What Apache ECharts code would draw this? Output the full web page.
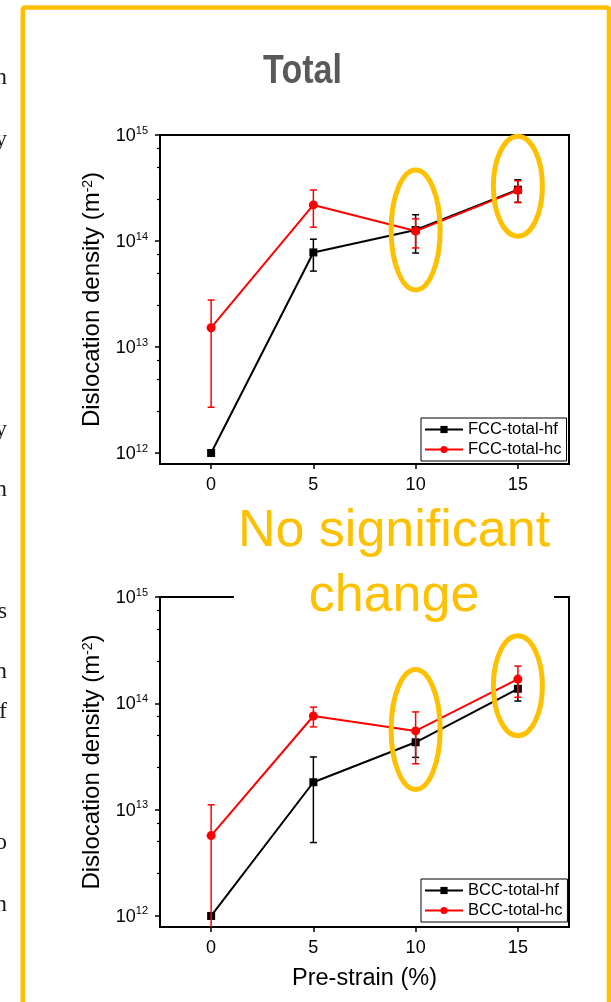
<!DOCTYPE html>
<html>
<head>
<meta charset="utf-8">
<script src="https://cdn.jsdelivr.net/npm/echarts@6/dist/echarts.min.js"></script>
<style>
  html, body { margin: 0; padding: 0; background: #ffffff; }
  #chart { width: 611px; height: 1002px; }
</style>
</head>
<body>
<div id="chart"></div>
<script>
// Pre-strain levels (%)
const strains = [0, 5, 10, 15];

// FCC total dislocation density (m^-2) and symmetric errors
const fccHf    = [1.0e12, 7.8e13, 1.27e14, 3.05e14];
const fccHfErr = [0, 2.6e13, 5.0e13, 7.3e13];
const fccHc    = [1.52e13, 2.19e14, 1.24e14, 3.0e14];
const fccHcErr = [1.25e13, 8.4e13, 3.8e13, 7.0e13];

// BCC total dislocation density (m^-2) and symmetric errors
const bccHf    = [1.0e12, 1.81e13, 4.3e13, 1.37e14];
const bccHfErr = [0, 1.32e13, 1.2e13, 3.2e13];
const bccHc    = [5.7e12, 7.6e13, 5.5e13, 1.69e14];
const bccHcErr = [5.4e12, 1.6e13, 2.8e13, 5.5e13];

// Tick values
const xTicks = [0, 5, 10, 15];
const yMajorTicks = [1e12, 1e13, 1e14, 1e15];
const yMinorTicks = [2.5e12, 5e12, 7.5e12, 2.5e13, 5e13, 7.5e13, 2.5e14, 5e14, 7.5e14];

// Highlighted strain levels: [strain, density at ring centre]
const fccRings = [[10, 1.27e14], [15, 3.28e14]];
const bccRings = [[10, 5.68e13], [15, 1.46e14]];

// Text fragments of the neighbouring column at the left page edge
const edgeFragments = [['n', 78], ['y', 140], ['y', 430], ['n', 490], ['s', 612], ['n', 672], ['f', 712], ['o', 843], ['n', 905]];

const FONT = '"Liberation Sans", Arial, Helvetica, sans-serif';
const GOLD = '#FFC000';
const RED = '#FF0000';
const Y_MIN = Math.pow(10, 11.896);
const Y_MAX = 1.00001e15;

const chart = echarts.init(document.getElementById('chart'), null, { renderer: 'canvas' });

function xAxisOf(gridIndex, withName) {
  return {
    type: 'value', gridIndex, min: -2.5, max: 17.5,
    axisLine: { onZero: false, lineStyle: { color: '#000', width: 2 } },
    axisTick: { show: true, customValues: xTicks, length: 5, inside: false, lineStyle: { color: '#000', width: 1.5 } },
    axisLabel: { customValues: xTicks, fontSize: 18, color: '#000', margin: 12, fontFamily: FONT },
    splitLine: { show: false },
    name: withName ? 'Pre-strain (%)' : '',
    nameLocation: 'middle', nameGap: 40,
    nameTextStyle: { fontSize: 23.5, color: '#000', fontFamily: FONT }
  };
}

const supRich = {
  b: { fontSize: 18, lineHeight: 20, verticalAlign: 'bottom', color: '#000', fontFamily: FONT },
  s: { fontSize: 11, lineHeight: 11, verticalAlign: 'top', color: '#000', fontFamily: FONT }
};

function yAxisOf(gridIndex) {
  return {
    type: 'log', logBase: 10, gridIndex, min: Y_MIN, max: Y_MAX, position: 'left',
    axisLine: { show: true, onZero: false, lineStyle: { color: '#000', width: 2 } },
    axisTick: { show: true, customValues: yMajorTicks, length: 5, lineStyle: { color: '#000', width: 1.5 } },
    axisLabel: {
      customValues: yMajorTicks, margin: 12,
      formatter: v => '{b|10}{s|' + Math.round(Math.log10(v)) + '}',
      rich: supRich
    },
    splitLine: { show: false },
    name: 'Dislocation density (m{s|-2})',
    nameLocation: 'middle', nameGap: 49,
    nameTextStyle: {
      fontSize: 24, color: '#000', fontFamily: FONT,
      rich: {
        s: { fontSize: 14, lineHeight: 14, verticalAlign: 'top', color: '#000', fontFamily: FONT }
      }
    }
  };
}

function yMinorAxisOf(gridIndex) {
  return {
    type: 'log', logBase: 10, gridIndex, min: Y_MIN, max: Y_MAX, position: 'left',
    axisLine: { show: false, onZero: false },
    axisTick: { show: true, customValues: yMinorTicks, length: 3, lineStyle: { color: '#000', width: 1.2 } },
    axisLabel: { show: false },
    splitLine: { show: false }
  };
}

function lineSeries(name, values, color, symbol, size, axisIdx, z) {
  return {
    type: 'line', name, xAxisIndex: axisIdx, yAxisIndex: axisIdx * 2,
    data: strains.map((x, i) => [x, values[i]]),
    symbol, symbolSize: size, showSymbol: true,
    lineStyle: { color, width: 2 }, itemStyle: { color },
    z, animation: false, silent: true
  };
}

function errorSeries(values, errs, color, axisIdx, z) {
  const data = [];
  strains.forEach((x, i) => { if (errs[i] > 0) data.push([x, values[i] - errs[i], values[i] + errs[i]]); });
  return {
    type: 'custom', xAxisIndex: axisIdx, yAxisIndex: axisIdx * 2, z, silent: true,
    encode: { x: 0, y: [1, 2] },
    data,
    renderItem(params, api) {
      const x = api.value(0), lo = api.value(1), hi = api.value(2);
      const cs = params.coordSys;
      const bottom = cs.y + cs.height;
      const top = api.coord([x, hi]);
      const cx = top[0];
      const clipped = lo <= Y_MIN;
      const loY = clipped ? bottom : api.coord([x, lo])[1];
      const capHalf = 3.5;
      const style = { stroke: color, lineWidth: 1.5, fill: null };
      const children = [
        { type: 'line', shape: { x1: cx, y1: top[1], x2: cx, y2: loY }, style },
        { type: 'line', shape: { x1: cx - capHalf, y1: top[1], x2: cx + capHalf, y2: top[1] }, style }
      ];
      if (!clipped) {
        children.push({ type: 'line', shape: { x1: cx - capHalf, y1: loY, x2: cx + capHalf, y2: loY }, style });
      }
      return { type: 'group', children };
    }
  };
}

function ringSeries(rings, axisIdx) {
  const ry = [60, 50];
  return {
    type: 'custom', xAxisIndex: axisIdx, yAxisIndex: axisIdx * 2, z: 20, silent: true,
    encode: { x: 0, y: 1 },
    data: rings,
    renderItem(params, api) {
      const c = api.coord([api.value(0), api.value(1)]);
      return {
        type: 'ellipse',
        shape: { cx: c[0], cy: c[1], rx: 24.5, ry: ry[params.dataIndex] },
        style: { fill: null, stroke: GOLD, lineWidth: 5 }
      };
    }
  };
}

function legendOf(names, top) {
  return {
    data: names, orient: 'vertical', left: 421, top,
    itemWidth: 38, itemHeight: 9, itemGap: 3,
    padding: [3, 5, 3, 3],
    borderColor: '#000', borderWidth: 1, backgroundColor: '#fff',
    textStyle: { fontSize: 16.5, color: '#000', fontFamily: FONT },
    selectedMode: false
  };
}

const graphics = [
  {
    type: 'rect', z: 100,
    shape: { x: 22.8, y: 7.5, width: 586.2, height: 1100, r: 2 },
    style: { fill: null, stroke: GOLD, lineWidth: 4.6 }
  },
  {
    type: 'text', z: 100, x: 302.5, y: 71.6, scaleX: 0.83,
    style: {
      text: 'Total', fill: '#595959', font: 'bold 41px ' + FONT,
      textAlign: 'center', textVerticalAlign: 'middle'
    }
  },
  {
    type: 'text', z: 100, x: 394, y: 497,
    style: {
      text: 'No significant\nchange', fill: GOLD, font: '52px ' + FONT,
      textAlign: 'center', textVerticalAlign: 'top', lineHeight: 65,
      backgroundColor: '#ffffff', padding: [2, 4, 2, 4]
    }
  }
];
edgeFragments.forEach(([ch, y]) => {
  graphics.push({
    type: 'text', z: 100, x: 7, y,
    style: {
      text: ch, fill: '#1a1a1a', font: '24px "Liberation Serif", "Times New Roman", serif',
      textAlign: 'right', textVerticalAlign: 'middle'
    }
  });
});

const option = {
  animation: false,
  backgroundColor: '#ffffff',
  textStyle: { fontFamily: FONT },
  grid: [
    { left: 160, top: 135, width: 409, height: 329, show: true, borderColor: '#000', borderWidth: 2, backgroundColor: 'transparent', containLabel: false },
    { left: 160, top: 597, width: 409, height: 330, show: true, borderColor: '#000', borderWidth: 2, backgroundColor: 'transparent', containLabel: false }
  ],
  xAxis: [xAxisOf(0, false), xAxisOf(1, true)],
  yAxis: [yAxisOf(0), yMinorAxisOf(0), yAxisOf(1), yMinorAxisOf(1)],
  legend: [
    legendOf(['FCC-total-hf', 'FCC-total-hc'], 418),
    legendOf(['BCC-total-hf', 'BCC-total-hc'], 879)
  ],
  series: [
    errorSeries(fccHf, fccHfErr, '#000', 0, 3),
    lineSeries('FCC-total-hf', fccHf, '#000', 'rect', 8, 0, 4),
    errorSeries(fccHc, fccHcErr, RED, 0, 5),
    lineSeries('FCC-total-hc', fccHc, RED, 'circle', 9, 0, 6),
    ringSeries(fccRings, 0),
    errorSeries(bccHf, bccHfErr, '#000', 1, 3),
    lineSeries('BCC-total-hf', bccHf, '#000', 'rect', 8, 1, 4),
    errorSeries(bccHc, bccHcErr, RED, 1, 5),
    lineSeries('BCC-total-hc', bccHc, RED, 'circle', 9, 1, 6),
    ringSeries(bccRings, 1)
  ],
  graphic: { elements: graphics }
};

chart.setOption(option);
</script>
</body>
</html>
